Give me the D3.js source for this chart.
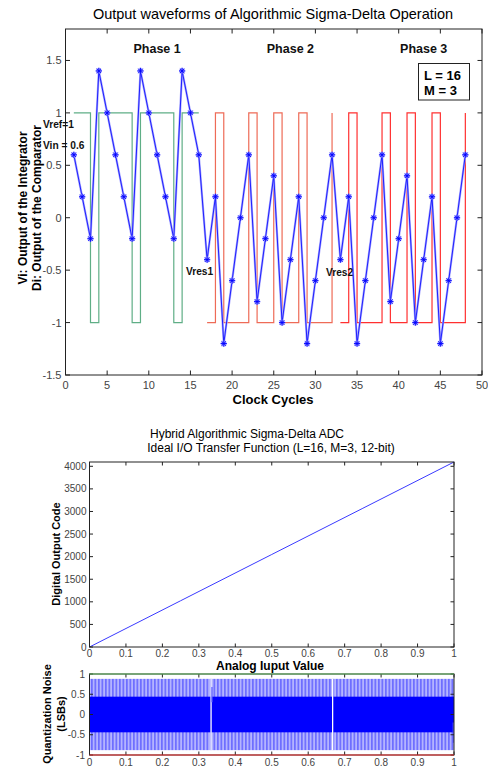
<!DOCTYPE html>
<html><head><meta charset="utf-8">
<script src="https://cdn.jsdelivr.net/npm/d3@7"></script>
<style>
html,body{margin:0;padding:0;background:#fff;}
text{font-family:"Liberation Sans",Arial,sans-serif;}
</style></head>
<body>
<svg id="c" width="488" height="779"></svg>
<script>
// ---------- DATA ----------
const clockCycles = [1,2,3,4,5,6,7,8,9,10,11,12,13,14,15,16,
  17,18,19,20,21,22,23,24,25,26,27,28,29,30,31,32,
  33,34,35,36,37,38,39,40,41,42,43,44,45,46,47,48];
const viValues = [0.6,0.2,-0.2,1.4,1.0,0.6,0.2,-0.2,1.4,1.0,0.6,0.2,-0.2,1.4,1.0,0.6,
  -0.4,0.2,-1.2,-0.6,0,0.6,-0.8,-0.2,0.4,-1.0,-0.4,0.2,-1.2,-0.6,0,0.6,
  -0.4,0.2,-1.2,-0.6,0,0.6,-0.8,-0.2,0.4,-1.0,-0.4,0.2,-1.2,-0.6,0,0.6];
const diValues = [1,1,-1,1,1,1,1,-1,1,1,1,1,-1,1,1,1,
  -1,1,-1,-1,-1,1,-1,-1,1,-1,-1,1,-1,-1,-1,1,
  -1,1,-1,-1,-1,1,-1,-1,1,-1,-1,1,-1,-1,-1,1];
const phaseNames = ["Phase 1","Phase 2","Phase 3"];
const phaseStart = [1,17,33];
const phaseEnd = [16,32,48];
const phaseLabelX = [11,27,43];
const phaseColors = ["#5fae86","#ee6b57","#ff3030"];
const xTicks1 = [0,5,10,15,20,25,30,35,40,45,50];
const yTicks1 = [-1.5,-1,-0.5,0,0.5,1,1.5];
const yTickLabels1 = ["-1.5","-1","-0.5","0","0.5","1","1.5"];

const analogInput = [0,0.25,0.5,0.75,1];
const outputCode = [0,1024,2048,3071,4095];
const xTicks2 = [0,0.1,0.2,0.3,0.4,0.5,0.6,0.7,0.8,0.9,1];
const xTickLabels2 = ["0","0.1","0.2","0.3","0.4","0.5","0.6","0.7","0.8","0.9","1"];
const yTicks2 = [0,500,1000,1500,2000,2500,3000,3500,4000];

const noiseOuter = [-0.88,0.88];
const noiseInner = [-0.44,0.44];
const noiseGaps = [0.3335,0.667];
const noiseGlitchX = [0.336,0.998];
const noiseGlitchLo = [0.3,-0.7];
const noiseGlitchHi = [0.68,-0.2];
const noiseRefHigh = 1, noiseRefLow = -1;
const yTicks3 = [-1,-0.5,0,0.5,1];
const yTickLabels3 = ["-1","-0.5","0","0.5","1"];

// ---------- DRAW ----------
const svg = d3.select("#c");
const tickCol = "#444";

// ===== Chart 1 =====
const c1 = {l:65.5,r:482,t:29,b:375};
const x1 = d3.scaleLinear().domain([0,50]).range([c1.l,c1.r]);
const y1 = d3.scaleLinear().domain([-1.5,1.8]).range([c1.b,c1.t]);
const g1 = svg.append("g");

svg.append("text").attr("x",273).attr("y",19).attr("text-anchor","middle")
  .attr("font-size",14.5).text("Output waveforms of Algorithmic Sigma-Delta Operation");

// comparator stairs
phaseStart.forEach((s,pi)=>{
  const pts = [];
  clockCycles.forEach((c,i)=>{ if(c>=s && c<=phaseEnd[pi]) pts.push([c,diValues[i]]); });
  g1.append("path").datum(pts)
    .attr("d", d3.line().x(d=>x1(d[0])).y(d=>y1(d[1])).curve(d3.curveStepAfter))
    .attr("fill","none").attr("stroke",phaseColors[pi]).attr("stroke-width",1.2);
});

// integrator line
const viPts = clockCycles.map((c,i)=>[c,viValues[i]]);
const ln = d3.line().x(d=>x1(d[0])).y(d=>y1(d[1]));
g1.append("path").datum(viPts).attr("d",ln).attr("fill","none")
  .attr("stroke","#a8a8ff").attr("stroke-width",2.2);
g1.append("path").datum(viPts).attr("d",ln).attr("fill","none")
  .attr("stroke","#1010ff").attr("stroke-width",0.9);

// star markers
const a = 3.1, b = 2.2;
const starPath = `M${-a},0L${a},0M0,${-a}L0,${a}M${-b},${-b}L${b},${b}M${-b},${b}L${b},${-b}`;
g1.selectAll(".st").data(viPts).enter().append("path")
  .attr("transform",d=>`translate(${x1(d[0])},${y1(d[1])})`)
  .attr("d",starPath).attr("stroke","#a0a0ff").attr("stroke-width",1.8).attr("fill","none");
g1.selectAll(".st2").data(viPts).enter().append("path")
  .attr("transform",d=>`translate(${x1(d[0])},${y1(d[1])})`)
  .attr("d",starPath).attr("stroke","#0000ff").attr("stroke-width",0.9).attr("fill","none");

// box & ticks
function boxAxes(g, xs, ys, xt, yt, tl){
  const [L,R] = xs.range(), [B,T] = ys.range();
  g.append("rect").attr("x",L).attr("y",T).attr("width",R-L).attr("height",B-T)
    .attr("fill","none").attr("stroke","#222").attr("stroke-width",1);
  xt.forEach(v=>{
    const X = xs(v);
    g.append("line").attr("x1",X).attr("x2",X).attr("y1",B).attr("y2",B-tl).attr("stroke","#222");
    g.append("line").attr("x1",X).attr("x2",X).attr("y1",T).attr("y2",T+tl).attr("stroke","#222");
  });
  yt.forEach(v=>{
    const Y = ys(v);
    g.append("line").attr("x1",L).attr("x2",L+tl).attr("y1",Y).attr("y2",Y).attr("stroke","#222");
    g.append("line").attr("x1",R).attr("x2",R-tl).attr("y1",Y).attr("y2",Y).attr("stroke","#222");
  });
}
boxAxes(g1, x1, y1, xTicks1, yTicks1, 4.5);
xTicks1.forEach(v=>{
  g1.append("text").attr("x",x1(v)).attr("y",389).attr("text-anchor","middle")
    .attr("font-size",11).attr("fill",tickCol).text(v);
});
yTicks1.forEach((v,i)=>{
  g1.append("text").attr("x",c1.l-4).attr("y",y1(v)+4).attr("text-anchor","end")
    .attr("font-size",11).attr("fill",tickCol).text(yTickLabels1[i]);
});

// phase labels
phaseNames.forEach((p,i)=>{
  g1.append("text").attr("x",x1(phaseLabelX[i])).attr("y",53).attr("text-anchor","middle")
    .attr("font-size",12.5).attr("font-weight","bold").attr("fill","#111").text(p);
});
// legend box
g1.append("rect").attr("x",418.5).attr("y",63.5).attr("width",51).attr("height",36.5)
  .attr("fill","#fff").attr("stroke","#222").attr("stroke-width",1);
g1.append("text").attr("x",424).attr("y",80).attr("font-size",13).attr("font-weight","bold").text("L = 16");
g1.append("text").attr("x",424).attr("y",94.5).attr("font-size",13).attr("font-weight","bold").text("M = 3");

// annotations
const ann = [["Vref=1",43,128],["Vin = 0.6",43,149],["Vres1",186,275],["Vres2",326,276]];
ann.forEach(d=>{
  g1.append("text").attr("x",d[1]).attr("y",d[2]).attr("font-size",10.2)
    .attr("font-weight","bold").attr("fill","#111").text(d[0]);
});

svg.append("text").attr("x",273).attr("y",404).attr("text-anchor","middle")
  .attr("font-size",13).attr("font-weight","bold").text("Clock Cycles");
svg.append("text").attr("transform","translate(27,208) rotate(-90)").attr("text-anchor","middle")
  .attr("font-size",12).attr("font-weight","bold").text("Vi: Output of the Integrator");
svg.append("text").attr("transform","translate(41,208) rotate(-90)").attr("text-anchor","middle")
  .attr("font-size",12).attr("font-weight","bold").text("Di: Output of the Comparator");

// ===== Chart 2 =====
const x2 = d3.scaleLinear().domain([0,1]).range([89.5,454]);
const y2 = d3.scaleLinear().domain([0,4095]).range([647,462]);
const g2 = svg.append("g");
svg.append("text").attr("x",247).attr("y",438).attr("text-anchor","middle")
  .attr("font-size",12).text("Hybrid Algorithmic Sigma-Delta ADC");
svg.append("text").attr("x",271).attr("y",452).attr("text-anchor","middle")
  .attr("font-size",12).text("Ideal I/O Transfer Function (L=16, M=3, 12-bit)");
g2.append("path").datum(analogInput.map((v,i)=>[v,outputCode[i]]))
  .attr("d",d3.line().x(d=>x2(d[0])).y(d=>y2(d[1])))
  .attr("fill","none").attr("stroke","#3a3aff").attr("stroke-width",1);
boxAxes(g2,x2,y2,xTicks2,yTicks2,3.5);
xTicks2.forEach((v,i)=>{
  g2.append("text").attr("x",x2(v)).attr("y",657).attr("text-anchor","middle")
    .attr("font-size",10).attr("fill",tickCol).text(xTickLabels2[i]);
});
yTicks2.forEach(v=>{
  g2.append("text").attr("x",86.5).attr("y",y2(v)+3.5).attr("text-anchor","end")
    .attr("font-size",10).attr("fill",tickCol).text(v);
});
svg.append("text").attr("x",270).attr("y",670).attr("text-anchor","middle")
  .attr("font-size",12).attr("font-weight","bold").text("Analog Iuput Value");
svg.append("text").attr("transform","translate(60,554) rotate(-90)").attr("text-anchor","middle")
  .attr("font-size",11).attr("font-weight","bold").text("Digital Output Code");

// ===== Chart 3 =====
const x3 = d3.scaleLinear().domain([0,1]).range([89.5,454]);
const y3 = d3.scaleLinear().domain([-1,1]).range([755,674]);
const g3 = svg.append("g");
const defs = svg.append("defs");
const pat = defs.append("pattern").attr("id","stripes").attr("patternUnits","userSpaceOnUse")
  .attr("width",3.5).attr("height",10);
pat.append("rect").attr("width",3.5).attr("height",10).attr("fill","#b4b4ff");
pat.append("rect").attr("width",1.7).attr("height",10).attr("fill","#6e6eff");
g3.append("rect").attr("x",x3(0)).attr("width",x3(1)-x3(0))
  .attr("y",y3(noiseOuter[1])).attr("height",y3(noiseOuter[0])-y3(noiseOuter[1]))
  .attr("fill","url(#stripes)");
g3.append("rect").attr("x",x3(0)).attr("width",x3(1)-x3(0))
  .attr("y",y3(noiseInner[1])).attr("height",y3(noiseInner[0])-y3(noiseInner[1]))
  .attr("fill","#0000ff");
noiseGaps.forEach(v=>{
  g3.append("line").attr("x1",x3(v)).attr("x2",x3(v)).attr("y1",y3(noiseOuter[1])).attr("y2",y3(noiseOuter[0]))
    .attr("stroke","#fff").attr("stroke-width",1.3);
});
noiseGlitchX.forEach((v,i)=>{
  g3.append("line").attr("x1",x3(v)).attr("x2",x3(v)).attr("y1",y3(noiseGlitchHi[i])).attr("y2",y3(noiseGlitchLo[i]))
    .attr("stroke","#5a5aff").attr("stroke-width",1.2);
});
boxAxes(g3,x3,y3,xTicks2,yTicks3,3.5);
g3.append("line").attr("x1",x3(0)).attr("x2",x3(1)).attr("y1",y3(noiseRefHigh)).attr("y2",y3(noiseRefHigh))
  .attr("stroke","#5fb85f").attr("stroke-width",1.2);
g3.append("line").attr("x1",x3(0)).attr("x2",x3(1)).attr("y1",y3(noiseRefLow)).attr("y2",y3(noiseRefLow))
  .attr("stroke","#ee3030").attr("stroke-width",1.2);
xTicks2.forEach((v,i)=>{
  g3.append("text").attr("x",x3(v)).attr("y",766).attr("text-anchor","middle")
    .attr("font-size",10).attr("fill",tickCol).text(xTickLabels2[i]);
});
yTicks3.forEach((v,i)=>{
  g3.append("text").attr("x",85).attr("y",y3(v)+3.5).attr("text-anchor","end")
    .attr("font-size",10).attr("fill",tickCol).text(yTickLabels3[i]);
});
svg.append("text").attr("transform","translate(51,714) rotate(-90)").attr("text-anchor","middle")
  .attr("font-size",11).attr("font-weight","bold").text("Quantization Noise");
svg.append("text").attr("transform","translate(65,714) rotate(-90)").attr("text-anchor","middle")
  .attr("font-size",11).attr("font-weight","bold").text("(LSBs)");
</script>
</body></html>
